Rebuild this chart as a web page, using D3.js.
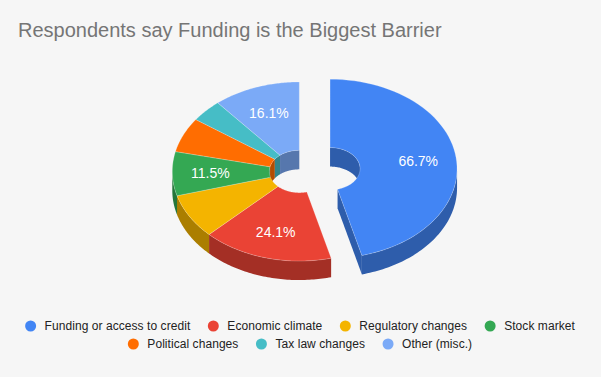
<!DOCTYPE html>
<html lang="en">
<head>
<meta charset="utf-8">
<script src="https://d3js.org/d3.v7.min.js"></script>
<style>
  html, body { margin: 0; padding: 0; background: #f6f6f6; }
  svg { display: block; font-family: "Liberation Sans", Arial, sans-serif; }
</style>
</head>
<body>
<svg id="chart" width="601" height="377"></svg>
<script>
// values (the % labels are the raw values, not shares)
const categories = ["Funding or access to credit", "Economic climate", "Regulatory changes",
  "Stock market", "Political changes", "Tax law changes", "Other (misc.)"];
const values = [66.7, 24.1, 11.7, 11.5, 9.1, 5.9, 16.1];
const colors = ["#4285f4", "#ea4335", "#f4b400", "#34a853", "#ff6d01", "#46bdc6", "#7baaf7"];
const sliceLabels = ["66.7%", "24.1%", "", "11.5%", "", "", "16.1%"];

const width = 601, height = 377;
const cx = 299.3, cy = 171.5;
const rOuter = 127, rInner = 30, tilt = 0.705, depth = 19;
const explode = {0: 31};
const labelR = 0.7 * rOuter;

const svg = d3.select("#chart");
svg.append("rect").attr("width", width).attr("height", height).attr("fill", "#f6f6f6");

svg.append("text")
    .attr("x", 18).attr("y", 37)
    .attr("font-size", 20).attr("fill", "#757575")
    .text("Respondents say Funding is the Biggest Barrier");

const slices = d3.pie().sort(null).value(d => d)(values).map((d, i) => {
  const mid = (d.startAngle + d.endAngle) / 2;
  const off = explode[i] || 0;
  return {
    ...d,
    i,
    mid,
    color: colors[i],
    ox: cx + off * Math.sin(mid),
    oy: cy - off * Math.cos(mid) * tilt
  };
});

// point on the tilted disc, dy = how far down the rim
const pt = (s, r, a, dy = 0) => [s.ox + r * Math.sin(a), s.oy - r * Math.cos(a) * tilt + dy];
const line = d3.line();
const sweep = (a0, a1) => d3.range(0, 61).map(k => a0 + (a1 - a0) * k / 60);
const dark = c => { const o = d3.rgb(c); return d3.rgb(o.r * 0.7, o.g * 0.7, o.b * 0.7).formatHex(); };

// band of wall between an arc and the same arc moved down
function wall(s, r, a0, a1) {
  const top = sweep(a0, a1).map(a => pt(s, r, a));
  const bot = sweep(a1, a0).map(a => pt(s, r, a, depth));
  return line(top.concat(bot)) + "Z";
}

const HALF = Math.PI / 2, TAU = Math.PI * 2;
const gWalls = svg.append("g");
const gTops = svg.append("g");

slices.forEach(s => {
  const d = dark(s.color);
  // outer rim, front half
  const a0 = Math.max(s.startAngle, HALF), a1 = Math.min(s.endAngle, 3 * HALF);
  if (a1 > a0) gWalls.append("path").attr("d", wall(s, rOuter, a0, a1)).attr("fill", d);
  // hole wall, back half
  [[Math.max(s.startAngle, 0), Math.min(s.endAngle, HALF)],
   [Math.max(s.startAngle, 3 * HALF), Math.min(s.endAngle, TAU)]].forEach(([b0, b1]) => {
    if (b1 > b0) gWalls.append("path").attr("d", wall(s, rInner, b0, b1)).attr("fill", d);
  });
  // cut face of an exploded slice
  if (explode[s.i]) {
    const e = s.endAngle;
    gWalls.append("path")
        .attr("d", line([pt(s, rInner, e), pt(s, rOuter, e), pt(s, rOuter, e, depth), pt(s, rInner, e, depth)]) + "Z")
        .attr("fill", d);
  }
});

gTops.selectAll("path")
  .data(slices)
  .join("path")
    .attr("d", s => {
      const outer = sweep(s.startAngle, s.endAngle).map(a => pt(s, rOuter, a));
      const inner = sweep(s.endAngle, s.startAngle).map(a => pt(s, rInner, a));
      return line(outer.concat(inner)) + "Z";
    })
    .attr("fill", d => d.color)
    .attr("stroke", "#fff").attr("stroke-opacity", 0.35).attr("stroke-width", 0.6);

svg.append("g").selectAll("text")
  .data(slices.filter(s => sliceLabels[s.i]))
  .join("text")
    .attr("x", s => pt(s, labelR, s.mid)[0])
    .attr("y", s => pt(s, labelR, s.mid)[1])
    .attr("dy", "0.36em")
    .attr("text-anchor", "middle")
    .attr("font-size", 14)
    .attr("fill", "#fff")
    .text(s => sliceLabels[s.i]);

// legend, two centred rows
const legendRows = [[0, 1, 2, 3], [4, 5, 6]];
const legendY = [326, 344];
const keyR = 5.5, keyGap = 8.5, itemGap = 17.5;
const legend = svg.append("g").attr("font-size", 12).attr("fill", "#222").attr("letter-spacing", 0.06);

legendRows.forEach((row, r) => {
  const items = row.map(i => {
    const g = legend.append("g");
    g.append("circle").attr("r", keyR).attr("fill", colors[i]);
    const t = g.append("text").attr("x", keyR + keyGap).attr("dy", "0.36em").text(categories[i]);
    return {g, w: keyR * 2 + keyGap + t.node().getComputedTextLength()};
  });
  const total = d3.sum(items, d => d.w) + itemGap * (items.length - 1);
  let x = (width - total) / 2 - 0.5;
  items.forEach(it => {
    it.g.attr("transform", `translate(${x + keyR},${legendY[r]})`);
    x += it.w + itemGap;
  });
});
</script>
</body>
</html>
